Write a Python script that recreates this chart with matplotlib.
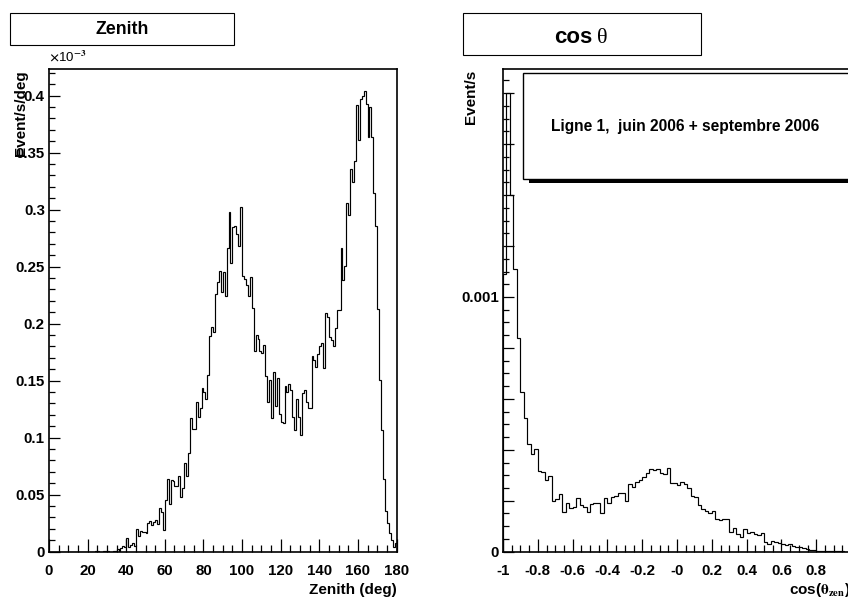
import numpy as np
import matplotlib
matplotlib.use('Agg')
import matplotlib.pyplot as plt
from matplotlib.patches import Rectangle
from matplotlib.ticker import MultipleLocator, FuncFormatter

plt.rcParams['font.family'] = 'Liberation Sans'
plt.rcParams['font.weight'] = 'bold'
plt.rcParams['mathtext.fontset'] = 'stix'

W, H = 848, 598

# zenith histogram, 1 deg bins, rate in units of 1e-3 event/s/deg
zenith_edges = np.arange(0, 181, 1)
zenith_rate = [
    0, 0, 0, 0, 0, 0, 0, 0, 0, 0,
    0, 0, 0, 0, 0, 0, 0, 0, 0, 0,
    0, 0, 0, 0, 0.001, 0.0005, 0, 0, 0.001, 0.0005,
    0.001, 0, 0, 0.0005, 0.001, 0.002, 0.001, 0.003, 0.005, 0.004,
    0.012, 0.004, 0.006, 0.008, 0.005, 0.020, 0.014, 0.018, 0.017, 0.017,
    0.016, 0.025, 0.027, 0.023, 0.026, 0.028, 0.024, 0.038, 0.035, 0.019,
    0.045, 0.064, 0.042, 0.063, 0.062, 0.058, 0.058, 0.066, 0.048, 0.056,
    0.078, 0.066, 0.087, 0.117, 0.108, 0.108, 0.131, 0.118, 0.126, 0.144,
    0.140, 0.134, 0.155, 0.189, 0.197, 0.193, 0.226, 0.237, 0.246, 0.228,
    0.245, 0.224, 0.266, 0.298, 0.253, 0.285, 0.286, 0.279, 0.268, 0.302,
    0.242, 0.239, 0.234, 0.224, 0.241, 0.214, 0.176, 0.190, 0.187, 0.176,
    0.174, 0.181, 0.154, 0.131, 0.151, 0.117, 0.158, 0.128, 0.152, 0.121,
    0.114, 0.113, 0.145, 0.140, 0.147, 0.142, 0.118, 0.107, 0.134, 0.118,
    0.102, 0.139, 0.142, 0.131, 0.126, 0.126, 0.172, 0.168, 0.162, 0.173,
    0.180, 0.183, 0.161, 0.209, 0.206, 0.188, 0.186, 0.180, 0.196, 0.212,
    0.212, 0.266, 0.238, 0.251, 0.306, 0.295, 0.336, 0.324, 0.343, 0.392,
    0.361, 0.397, 0.400, 0.404, 0.393, 0.364, 0.390, 0.364, 0.315, 0.286,
    0.213, 0.151, 0.107, 0.064, 0.036, 0.025, 0.016, 0.010, 0.004, 0.008,
]

# cos(theta) histogram, 100 bins, rate in units of 1e-3 event/s
cos_edges = np.linspace(-1, 1, 101)
cos_rate = [
    1.09, 1.80, 1.40, 1.11, 0.84, 0.628, 0.524, 0.423, 0.382, 0.402,
    0.317, 0.314, 0.281, 0.298, 0.200, 0.205, 0.225, 0.157, 0.190, 0.170,
    0.174, 0.212, 0.183, 0.177, 0.157, 0.187, 0.190, 0.190, 0.150, 0.209,
    0.190, 0.216, 0.219, 0.229, 0.232, 0.199, 0.264, 0.255, 0.275, 0.281,
    0.294, 0.310, 0.323, 0.320, 0.324, 0.310, 0.307, 0.330, 0.271, 0.268,
    0.262, 0.272, 0.266, 0.249, 0.219, 0.216, 0.183, 0.166, 0.161, 0.153,
    0.160, 0.127, 0.125, 0.127, 0.130, 0.079, 0.094, 0.069, 0.059, 0.089,
    0.072, 0.076, 0.068, 0.065, 0.072, 0.039, 0.030, 0.043, 0.037, 0.033,
    0.029, 0.026, 0.029, 0.022, 0.020, 0.017, 0.013, 0.009, 0.007, 0.007,
    0.004, 0.003, 0.003, 0.002, 0.002, 0.001, 0.001, 0.001, 0.0005, 0.0,
]

legend_text = "Ligne 1,  juin 2006 + septembre 2006"


def fx(x):
    return x / W


def fy(y):
    return 1 - y / H


def fbox(x0, y0, x1, y1):
    return [fx(x0), fy(y1), fx(x1) - fx(x0), fy(y0) - fy(y1)]


fig = plt.figure(figsize=(W / 100, H / 100), dpi=100)
fig.patch.set_facecolor('white')

# ---- left: zenith ----
ax1 = fig.add_axes(fbox(49, 69, 396.5, 551.7))
ax1.stairs(zenith_rate, zenith_edges, color='black', lw=0.85)
ax1.set_xlim(0, 180)
ax1.set_ylim(0, 0.4234)
ax1.xaxis.set_major_locator(MultipleLocator(20))
ax1.xaxis.set_minor_locator(MultipleLocator(5))
ax1.yaxis.set_major_locator(MultipleLocator(0.05))
ax1.yaxis.set_minor_locator(MultipleLocator(0.01))
ax1.yaxis.set_major_formatter(FuncFormatter(lambda v, p: f'{v:g}' if abs(v) > 1e-9 else '0'))
ax1.xaxis.set_major_formatter(FuncFormatter(lambda v, p: f'{v:g}'))

# ---- right: cos theta ----
ax2 = fig.add_axes(fbox(503, 69, 851, 551.7))
ax2.stairs(np.array(cos_rate) * 1e-3, cos_edges, color='black', lw=0.85)
ax2.set_xlim(-1, 1)
ax2.set_ylim(0, 0.001895)
ax2.xaxis.set_major_locator(MultipleLocator(0.2))
ax2.xaxis.set_minor_locator(MultipleLocator(0.05))
ax2.yaxis.set_major_locator(MultipleLocator(0.0002))
ax2.yaxis.set_minor_locator(MultipleLocator(0.00005))


def cos_xfmt(v, p):
    if abs(v) < 1e-9:
        return '-0'
    return f'{round(v, 1):g}'


def cos_yfmt(v, p):
    if abs(v) < 1e-9:
        return '0'
    if abs(v - 0.001) < 1e-9:
        return '0.001'
    return ''


ax2.xaxis.set_major_formatter(FuncFormatter(cos_xfmt))
ax2.yaxis.set_major_formatter(FuncFormatter(cos_yfmt))

for ax in (ax1, ax2):
    for s in ax.spines.values():
        s.set_linewidth(1.2)
    ax.tick_params(which='both', direction='in', top=False, right=False,
                   labelsize=10.8, width=0.9)
    ax.tick_params(axis='x', which='major', length=9.5, pad=9)
    ax.tick_params(axis='x', which='minor', length=5)
    ax.tick_params(axis='y', which='major', length=8, pad=3)
    ax.tick_params(axis='y', which='minor', length=4)

# title boxes
fig.patches.append(Rectangle((fx(10), fy(45)), fx(234) - fx(10), fy(12.7) - fy(45),
                             transform=fig.transFigure, facecolor='white',
                             edgecolor='black', lw=0.8))
fig.text(fx(122), fy(29), 'Zenith', ha='center', va='center', fontsize=12.8)

fig.patches.append(Rectangle((fx(463), fy(55)), fx(701) - fx(463), fy(12.7) - fy(55),
                             transform=fig.transFigure, facecolor='white',
                             edgecolor='black', lw=0.8))
fig.text(fx(592), fy(43), 'cos', ha='right', va='baseline', fontsize=16)
fig.text(fx(597), fy(43), 'θ', ha='left', va='baseline', fontsize=16,
         family='Liberation Serif', fontweight='normal')

# axis labels
fig.text(fx(49), fy(61), r'$\times$10$^{-3}$', ha='left', va='baseline',
         fontsize=9.5, fontweight='normal')
fig.text(fx(21), fy(70), 'Event/s/deg', rotation=90, ha='center', va='top', fontsize=11)
fig.text(fx(471), fy(70), 'Event/s', rotation=90, ha='center', va='top', fontsize=11)
fig.text(fx(397), fy(590), 'Zenith (deg)', ha='right', va='center', fontsize=11)
fig.text(fx(851), fy(590), r'cos($\mathrm{\theta}_{\mathbf{zen}}$)', ha='right', va='center',
         fontsize=11)

# pave with shadow
fig.patches.append(Rectangle((fx(529), fy(183)), fx(900) - fx(529), fy(78) - fy(183),
                             transform=fig.transFigure, facecolor='black',
                             edgecolor='black', lw=0))
fig.patches.append(Rectangle((fx(523), fy(179.3)), fx(900) - fx(523), fy(72.7) - fy(179.3),
                             transform=fig.transFigure, facecolor='white',
                             edgecolor='black', lw=1.0))
fig.text(fx(551), fy(126), legend_text, ha='left', va='center', fontsize=11.2)

fig.savefig('out.png', dpi=100)
